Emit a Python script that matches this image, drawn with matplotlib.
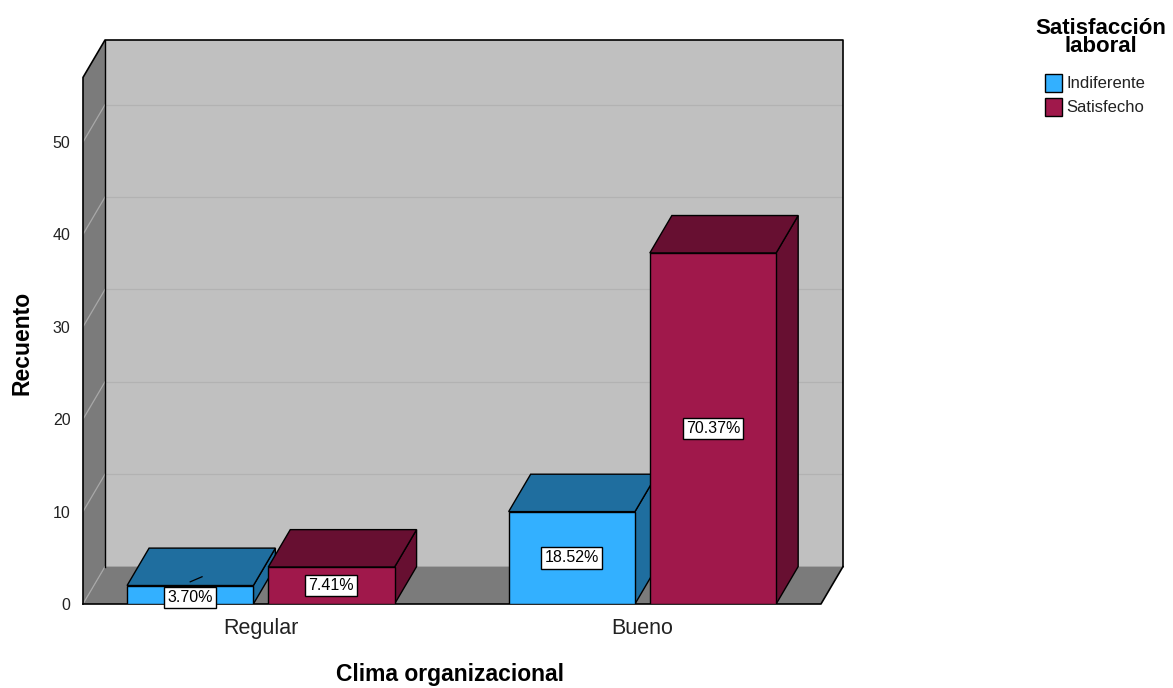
import matplotlib
matplotlib.use("Agg")
import matplotlib.pyplot as plt
from matplotlib.patches import Polygon, Rectangle

plt.rcParams["font.family"] = ["Liberation Sans", "DejaVu Sans"]

# data
categories = ["Regular", "Bueno"]
series = ["Indiferente", "Satisfecho"]
counts = {
    "Indiferente": [2, 10],
    "Satisfecho": [4, 38],
}
pct_labels = {
    "Indiferente": ["3.70%", "18.52%"],
    "Satisfecho": ["7.41%", "70.37%"],
}
yticks = [0, 10, 20, 30, 40, 50]

# styling / 3d geometry (category units on x, counts on y)
front_col = {"Indiferente": "#33b0ff", "Satisfecho": "#a0184b"}
dark_col = {"Indiferente": "#1f6e9f", "Satisfecho": "#670f31"}
BAR_W = 0.331
GAP = 0.039
DX, DY = 0.0577, 4.05          # depth offset of the 3d box
X0, X1 = -0.466, 1.468          # front floor edge
YTOP = 57.0                     # front top of left wall

fig = plt.figure(figsize=(11.73, 6.88), dpi=100)
ax = fig.add_axes([83 / 1173, (688 - 604) / 688, (843 - 83) / 1173, (604 - 40) / 688])
ax.set_xlim(X0, X1 + DX)
ax.set_ylim(0, YTOP + DY)
for s in ax.spines.values():
    s.set_visible(False)
ax.set_xticks([])
ax.set_yticks(yticks)
ax.set_yticklabels([str(t) for t in yticks], fontsize=11.5, color="#222222")
ax.tick_params(axis="y", length=0, pad=9)

# back wall
ax.add_patch(Polygon([(X0 + DX, DY), (X1 + DX, DY), (X1 + DX, YTOP + DY), (X0 + DX, YTOP + DY)],
                     closed=True, facecolor="#c0c0c0", edgecolor="none", zorder=1))
# left wall
ax.add_patch(Polygon([(X0, 0), (X0 + DX, DY), (X0 + DX, YTOP + DY), (X0, YTOP)],
                     closed=True, facecolor="#7b7b7b", edgecolor="none", zorder=1))
# floor
ax.add_patch(Polygon([(X0, 0), (X1, 0), (X1 + DX, DY), (X0 + DX, DY)],
                     closed=True, facecolor="#7b7b7b", edgecolor="none", zorder=1))

# gridlines (back wall + diagonals on the left wall)
for v in yticks:
    ax.plot([X0, X0 + DX], [v, v + DY], color="#a8a8a8", lw=0.9, zorder=2)
    if v > 0:
        ax.plot([X0 + DX, X1 + DX], [v + DY, v + DY], color="#b2b2b2", lw=0.9, zorder=2)

# outlines
ax.plot([X0, X0, X0 + DX, X1 + DX, X1 + DX], [0, YTOP, YTOP + DY, YTOP + DY, DY],
        color="black", lw=1.2, zorder=3, clip_on=False)
ax.plot([X0 + DX, X0 + DX], [DY, YTOP + DY], color="black", lw=1.0, zorder=3)
ax.plot([X0, X1, X1 + DX], [0, 0, DY], color="black", lw=1.2, zorder=3, clip_on=False)

# bars
z = 4
for ci, cat in enumerate(categories):
    for si, name in enumerate(series):
        left = ci - BAR_W - GAP / 2 if si == 0 else ci + GAP / 2
        right = left + BAR_W
        h = counts[name][ci]
        kw = dict(closed=True, edgecolor="black", lw=1.0, zorder=z)
        ax.add_patch(Polygon([(right, 0), (right + DX, DY), (right + DX, h + DY), (right, h)],
                             facecolor=dark_col[name], **kw))
        ax.add_patch(Polygon([(left, h), (right, h), (right + DX, h + DY), (left + DX, h + DY)],
                             facecolor=dark_col[name], **kw))
        ax.add_patch(Polygon([(left, 0), (right, 0), (right, h), (left, h)],
                             facecolor=front_col[name], **kw))
        ly = h / 2
        if h < 3:
            # label sits low on the thin bar, with a short leader to its top
            ly = h / 2 - 0.3
            cx = (left + right) / 2
            ax.plot([cx, cx + 0.031], [h + 0.4, h + 0.95], color="black", lw=0.9, zorder=z + 1)
        ax.text((left + right) / 2, ly, pct_labels[name][ci], ha="center", va="center",
                fontsize=11.5, color="black", zorder=z + 1, clip_on=False,
                bbox=dict(boxstyle="square,pad=0.2", facecolor="white", edgecolor="black", lw=1.0))
        z += 2

# category labels
for ci, cat in enumerate(categories):
    ax.text(ci, -2.7, cat, ha="center", va="center", fontsize=15.5, color="#222222", clip_on=False)

fig.text(450 / 1173, 1 - 675 / 688, "Clima organizacional", ha="center", va="center",
         fontsize=16.5, fontweight="bold")
fig.text(22 / 1173, 1 - 343 / 688, "Recuento", ha="center", va="center", rotation=90,
         fontsize=16.5, fontweight="bold")

# legend
fig.text(1101 / 1173, 1 - 28 / 688, "Satisfacción", ha="center", va="center",
         fontsize=16, fontweight="bold")
fig.text(1101 / 1173, 1 - 47 / 688, "laboral", ha="center", va="center",
         fontsize=16, fontweight="bold")
for i, s in enumerate(series):
    yc = 83 + 24 * i
    fig.patches.append(Rectangle((1045 / 1173, 1 - (yc + 8.5) / 688), 17 / 1173, 17 / 688,
                                 transform=fig.transFigure, facecolor=front_col[s],
                                 edgecolor="black", lw=1.0))
    fig.text(1066 / 1173, 1 - (yc + 1) / 688, s, ha="left", va="center", fontsize=12,
             color="#222222")

fig.savefig("out.png", dpi=100)
